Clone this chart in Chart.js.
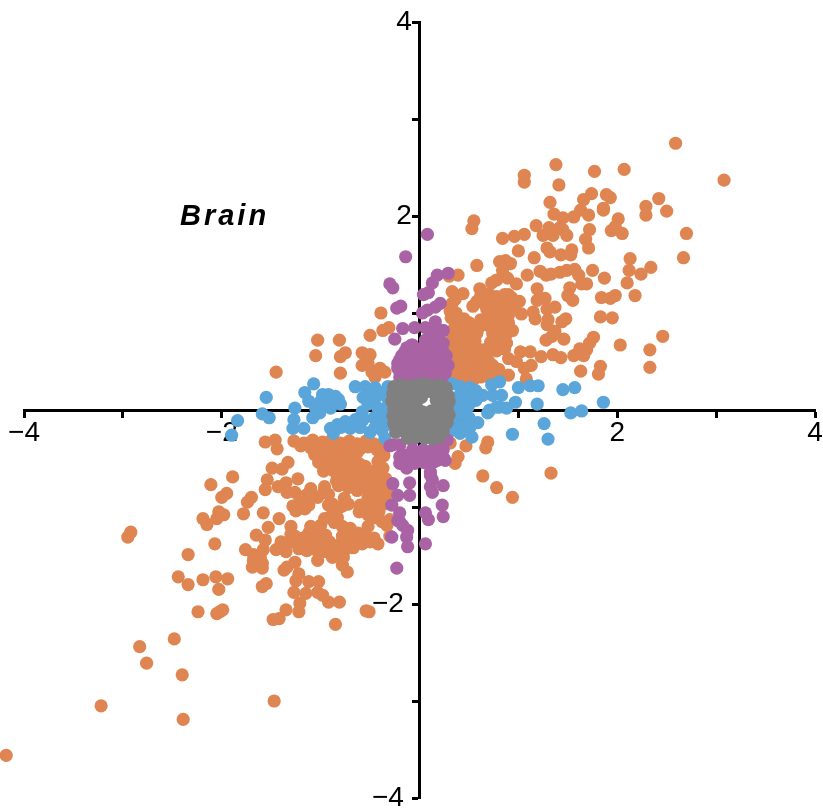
<!DOCTYPE html>
<html>
<head>
<meta charset="utf-8">
<title>Brain</title>
<script src="https://cdn.jsdelivr.net/npm/chart.js@4"></script>
<style>
  html, body { margin: 0; padding: 0; background: #fff; }
  #wrap { position: relative; width: 823px; height: 810px; overflow: hidden; }
  #chart { display: block; }
  #brain {
    position: absolute; left: 180px; top: 199px;
    font: italic bold 29px "Liberation Sans", Arial, sans-serif;
    letter-spacing: 3px; color: #000;
  }
</style>
</head>
<body>
<div id="wrap">
  <canvas id="chart" width="823" height="810"></canvas>
  <div id="brain">Brain</div>
</div>
<script>
// values: [x, y]
const greyPoints = [
  [-.26,.24],[-.19,.26],[-.11,.25],[-.03,.26],[.05,.27],[.13,.25],[.2,.26],[.27,.23],
  [-.27,.17],[-.18,.18],[-.1,.16],[-.02,.18],[.07,.19],[.15,.17],[.22,.16],[.29,.15],
  [-.28,.09],[-.2,.08],[-.12,.1],[-.03,.09],[.02,.13],[.17,.1],[.24,.08],[.3,.09],
  [-.26,.01],[-.17,.02],[-.09,.03],[-.02,.01],[.03,-.02],[.12,-.01],[.2,.01],[.28,.02],
  [-.27,-.06],[-.19,-.07],[-.1,-.08],[-.02,-.06],[.06,-.08],[.14,-.07],[.22,-.06],[.3,-.05],
  [-.26,-.14],[-.18,-.15],[-.09,-.14],[-.01,-.16],[.07,-.15],[.15,-.14],[.23,-.16],[.28,-.13],
  [-.24,-.23],[-.16,-.22],[-.08,-.24],[0,-.22],[.08,-.23],[.16,-.24],[.24,-.22],
  [-.12,-.29],[-.04,-.28],[.05,-.29],[.13,-.3],[.2,-.28]
];
const bluePoints = [
  [-1.9,-.26],[-1.84,-.11],[-1.59,-.04],[-1.52,-.08],[-1.55,.13],[-1.26,.02],[-1.27,-.1],[-1.28,-.19],
  [-1.17,-.19],[-1.16,.18],[-1.07,.27],[-1.12,.09],[-.98,.16],[-.85,.14],[-.8,.06],[-.9,.02],
  [-.98,.03],[-1.01,-.03],[-1.08,-.08],[-.9,-.19],[-.83,-.15],[-.75,-.12],[-.65,-.1],[-.87,-.24],
  [-.8,-.18],[-.7,-.19],[-.6,-.18],[-.5,-.23],[-.58,-.02],[-.57,-.1],[-.65,.24],[-.55,.24],
  [-.45,.23],[-.32,.24],[-.57,.13],[-.45,.12],[-.33,.13],[-.42,.02],[-.33,.03],[-.38,-.08],
  [-.33,-.15],[-.45,-.18],[-.38,-.21],[-.35,-.29],[-.9,.1],[-.92,.16],[-1.0,.09],[-.95,.08],
  [-.88,.08],[-.82,.11],[-1.05,.02],[-.5,.2],[-.4,.18],[-.52,.06],[-.46,-.08],
  [.33,.27],[.41,.24],[.51,.23],[.38,.13],[.48,.13],[.29,.13],[.38,.03],[.49,.03],
  [.44,-.07],[.54,-.13],[.59,-.13],[.34,-.13],[.41,-.18],[.51,-.18],[.33,-.21],[.41,-.24],
  [.53,-.28],[.71,0],[.69,-.03],[.81,.03],[.88,.02],[.97,.08],[1.0,.23],[1.12,.25],
  [1.2,.25],[.64,.15],[.74,.15],[.83,.15],[.81,.29],[.73,.26],[1.19,.06],[.94,-.25],
  [1.26,-.14],[1.3,-.3],[1.45,.21],[1.57,.23],[1.86,.08],[1.53,-.03],[1.64,-.01],[.78,.03],
  [.57,.1],[.57,.2],[.42,.08],[.5,.06],[.33,.04],[.34,-.05],[.42,-.03],[.5,-.08]
];
const orangePoints = [
  // lower left tail
  [-4.18,-3.56],[-3.22,-3.05],[-2.39,-3.19],[-1.47,-3],[-2.4,-2.73],[-2.76,-2.61],[-2.83,-2.44],[-2.48,-2.36],
  [-.85,-2.21],[-.54,-2.07],[-.51,-2.08],[-1.48,-2.16],[-1.42,-2.15],[-1.35,-2.06],[-1.22,-2.08],[-1.21,-1.99],
  [-.92,-1.98],[-.81,-1.98],[-.98,-1.91],[-1.03,-1.88],[-1.12,-1.77],[-1.02,-1.77],[-1.15,-1.89],[-1.27,-1.88],
  [-1.25,-1.76],[-1.22,-1.69],[-2.24,-2.08],[-2.05,-2.1],[-2.02,-2.08],[-1.99,-2.06],[-2.03,-1.85],[-2.19,-1.75],
  [-2.06,-1.72],[-1.94,-1.74],[-2.44,-1.72],[-2.34,-1.8],[-2.34,-1.49],[-2.07,-1.38],[-2.95,-1.31],[-2.92,-1.26],
  [-1.59,-1.82],[-1.55,-1.79],[-.73,-1.67],[-.78,-1.6],[-1.03,-1.55],[-.88,-1.52],[-.77,-1.52],[-1.37,-1.65],
  [-1.34,-1.62],[-1.26,-1.57],[-1.69,-1.62],[-1.59,-1.63],[-1.76,-1.44],[-1.68,-1.49],[-1.61,-1.52],[-1.59,-1.58],
  [-1.68,-1.55],[-1.58,-1.44],[-1.65,-1.29],[-1.56,-1.34],[-1.53,-1.21],[-1.58,-1.06],[-1.42,-1.12],[-1.78,-1.07],
  [-1.74,-.95],[-1.7,-.9],[-2.19,-1.12],[-2.15,-1.18],[-2.05,-1.12],[-2.03,-1.05],[-1.98,-1.08],[-2.11,-.77],
  [-2,-.9],[-1.95,-.86],[-1.89,-.69],[-1.54,-.72],[-1.56,-.82],[-1.49,-.6],[-1.39,-.61],[-1.33,-.54],
  [-1.56,-.33],[-1.46,-.31],[-1.44,-.4],[-1.43,-.79],[-1.35,-.75],[-1.34,-.85],[-1.26,-.85],[-1.23,-.71],
  // lower left cloud
  [-1.27,-.32],[-1.17,-.34],[-1.08,-.31],[-.98,-.33],[-.89,-.31],[-.8,-.34],[-.71,-.32],[-.63,-.35],[-.54,-.32],[-.46,-.35],
  [-1.2,-.37],[-1.1,-.39],[-1.02,-.37],[-.93,-.4],[-.85,-.38],[-.76,-.39],[-.68,-.37],[-.6,-.4],[-.52,-.38],[-.43,-.41],[-.35,-.37],
  [-1.06,-.46],[-.98,-.44],[-.89,-.47],[-.81,-.45],[-.72,-.47],[-.63,-.44],[-.36,-.47],
  [-1.02,-.54],[-.94,-.56],[-.85,-.53],[-.76,-.55],[-.69,-.53],[-.6,-.56],[-.42,-.53],
  [-.97,-.63],[-.88,-.62],[-.79,-.65],[-.7,-.63],[-.62,-.61],[-.53,-.64],[-.44,-.62],
  [-.84,-.73],[-.76,-.71],[-.67,-.74],[-.58,-.72],[-.5,-.7],[-.41,-.73],[-.34,-.71],
  [-1.1,-.81],[-.96,-.79],[-.72,-.8],[-.63,-.83],[-.55,-.79],[-.46,-.81],[-.38,-.78],
  [-1.15,-.88],[-1.03,-.9],[-.92,-.87],[-.76,-.91],[-.52,-.9],[-.43,-.88],[-.32,-.86],
  [-1.22,-.96],[-1.12,-.98],[-.88,-.97],[-.78,-.99],[-.55,-.97],[-.47,-.94],[-.36,-.97],
  [-1.25,-1.04],[-1.16,-1.02],[-.85,-1.06],[-.61,-1.05],[-.5,-1.03],[-.41,-1.05],
  [-.83,-1.11],[-.44,-1.11],[-.3,-1.13],
  [-1.3,-1.2],[-1,-1.19],[-.78,-1.2],[-.7,-1.22],[-.33,-1.19],
  [-1.26,-1.3],[-1.12,-1.27],[-.95,-1.29],[-.72,-1.3],[-.62,-1.27],[-.55,-1.29],[-.3,-1.3],
  [-1.3,-1.36],[-1.21,-1.38],[-1.1,-1.35],[-1,-1.37],[-.91,-1.36],[-.8,-1.38],[-.68,-1.35],[-.5,-1.36],[-.42,-1.38],
  [-1.45,-1.44],[-1.35,-1.46],[-1.22,-1.43],[-1.14,-1.45],[-1.05,-1.44],[-.95,-1.46],[-.85,-1.43],[-.76,-1.45],
  // lower left cloud, filling between the rows
  [-1.28,-.99],[-1.2,-.92],[-1.1,-.9],[-.97,-.85],[-.82,-.78],
  [-.68,-.72],[-.92,-.98],[-.82,-1.01],[-.72,-.97],[-.6,-.98],[-.52,-1.08],[-.9,-1.1],[-.96,-1.12],[-1.02,-1.25],[-1.1,-1.2],
  [-.86,-1.16],[-.52,-1.2],[-.38,-1.15],[-.4,-.92],[-.33,-.8],[-.45,-.68],[-.37,-.6],[-.55,-.58],[-.65,-.68],
  [-.75,-.6],[-.83,-.68],[-.92,-.5],[-.8,-.5],[-.66,-.5],[-.4,-.57],[-1.05,-1.32],[-.78,-1.3],[-.67,-1.42],
  [-.58,-1.38],[-.46,-1.32],[-1.18,-1.32],[-1.3,-1.28],[-1.4,-1.36],
  // below the axis, right side
  [.69,-.33],[.67,-.39],[.39,-.48],[.36,-.55],[.47,-.37],[.64,-.68],[.78,-.8],[.94,-.9],[1.33,-.65],[.31,-.34],
  // above the axis, left side
  [-1.03,.72],[-.81,.72],[-1.05,.56],[-.8,.55],[-.75,.59],[-.8,.38],[-.58,.59],[-.5,.57],[-.58,.46],[-.52,.48],
  [-.5,.77],[-.39,1],[-.37,.82],[-.31,.85],[-.48,.39],[-.4,.43],[-.35,.39],[-.45,.34],[-1.45,.39],
  // upper right tail
  [2.59,2.75],[3.08,2.37],[1.38,2.53],[1.06,2.42],[1.06,2.35],[1.41,2.32],[1.77,2.46],[2.07,2.48],
  [1.74,2.23],[1.66,2.17],[1.32,2.14],[1.89,2.22],[1.93,2.19],[2.42,2.18],[2.29,2.1],[2.29,2.01],
  [2.5,2.05],[1.86,2.06],[1.86,2.08],[1.63,2.06],[1.71,2.01],[1.36,2.02],[1.45,1.98],[1.56,1.99],
  [2.01,1.97],[1.94,1.85],[1.98,1.89],[2.05,1.82],[2.7,1.82],[2.67,1.57],[.55,1.95],[.53,1.87],
  [1.18,1.9],[1.31,1.88],[1.42,1.88],[1.25,1.8],[1.35,1.8],[1.49,1.8],[1.45,1.86],[1.72,1.86],
  [1.68,1.76],[1.71,1.67],[.84,1.77],[.96,1.79],[1.06,1.81],[1,1.64],[1.29,1.67],[1.32,1.63],
  [1.43,1.6],[1.54,1.65],[1.53,1.6],[1.16,1.57],[.58,1.49],[2.13,1.56],[2.12,1.44],[2.24,1.4],
  [2.34,1.47],[.81,1.53],[.87,1.54],[.92,1.51],[.84,1.44],[.3,1.38],[.39,1.39],[1.09,1.39],
  [1.22,1.43],[1.28,1.39],[1.33,1.4],[1.42,1.42],[1.49,1.44],[1.57,1.45],[1.61,1.39],[1.75,1.44],
  [1.87,1.36],[2.1,1.31],[2.18,1.18],[1.98,1.18],[1.93,1.15],[1.84,1.16],[1.83,.96],[1.95,.95],
  [1.64,1.3],[1.69,1.3],[1.52,1.26],[1.5,1.18],[1.55,1.13],[1.19,1.25],[1.19,1.13],[1.27,1.15],
  [1.29,1.04],[1.37,1.06],[1.15,1.01],[1.03,.99],[1.17,.94],[1.3,.93],[1.29,.88],[1.44,.91],
  [1.48,.94],[1.37,.81],[1.34,.76],[1.28,.72],[1.46,.73],[1.76,.75],[1.72,.69],[1.69,.62],
  [1.62,.63],[2.03,.67],[2.46,.76],[2.33,.62],[2.33,.44],[1.83,.45],[1.81,.37],[1.63,.4],
  [1.66,.56],[1.56,.56],[1.43,.54],[1.35,.57],[1.23,.55],[1.12,.6],[1.02,.6],[1.13,.46],
  [1.06,.43],[1.08,.32],[.98,1.3],[1.01,1.12],[.9,1.19],[.89,1.36],[.73,1.31],[.78,1.34],
  [.61,1.25],[.44,1.2],[.33,1.22],
  // upper right cloud
  [.62,1.18],[.7,1.2],[.78,1.17],[.86,1.19],[.93,1.16],
  [.33,1.1],[.58,1.12],[.66,1.09],[.74,1.11],[.82,1.08],[.9,1.1],
  [.31,1.02],[.68,1.04],[.8,1.01],[.88,1.03],
  [.32,.95],[.45,.94],[.62,.93],[.72,.96],[.78,.94],[.85,.95],
  [.38,.87],[.45,.86],[.52,.88],[.6,.85],[.7,.87],[.83,.86],
  [.33,.78],[.42,.8],[.5,.77],[.58,.79],[.74,.79],[.82,.77],
  [.33,.7],[.42,.71],[.48,.69],[.56,.71],[.72,.7],[.8,.72],[.88,.69],
  [.28,.62],[.38,.61],[.46,.63],[.54,.6],[.63,.62],[.7,.64],[.78,.61],[.86,.63],
  [.3,.54],[.38,.55],[.47,.53],[.55,.55],[.62,.52],[.9,.53],
  [.33,.46],[.42,.47],[.5,.45],[.58,.47],[.66,.44],[.74,.46],
  [.34,.38],[.42,.39],[.5,.37],[.6,.39],[.66,.36],[.75,.38],
  [.36,.33],[.55,.32],[.7,.34],[.8,.32],
  // upper right cloud, filling between the rows
  [.36,1.14],[.37,1],[.4,.92],[.35,.84],[.54,1.07],[.64,1.14],[.72,1.02],[.76,1.06],
  [.84,1.13],[.95,1.06],[.68,.9],[.76,.87],[.9,.9],[.94,.82],[.88,.78],[.78,.7],[.56,.8],
  [.46,.74],[.4,.66],[.5,.58],[.58,.54],[.68,.58],[.74,.62],[.98,.5],[.8,.42],
  [.7,.5],[.56,.42],[.46,.41],[.38,.5],[.9,.36],[.62,.34],[.46,.33],[.9,.98],[.5,.9]
];
const purplePoints = [
  [.08,1.81],[-.14,1.58],[-.3,1.3],[-.27,1.26],[.18,1.39],[.29,1.41],[.13,1.31],[.04,1.19],[.09,1.21],
  [.21,1.1],[.16,1.06],[.08,1.03],[.03,1],[.16,.91],[-.23,1.05],[-.19,1.07],[-.17,.84],[-.05,.85],[-.25,.73],
  [.06,.85],[.18,.82],[.24,.82],[.06,.72],[.18,.72],[.24,.69],[.19,.75],[.12,.78],[.13,.66],[.03,.64],
  [-.13,.64],[-.07,.67],[.1,.65],[.18,.63],[.24,.6],[-.08,.67],[-.15,.6],[-.03,.57],[-.2,.52],[.06,.59],[.23,.59],
  [-.18,.56],[-.1,.54],[-.03,.57],[.06,.55],[.13,.57],[.2,.54],[.27,.56],[-.07,.52],
  [-.22,.48],[-.14,.47],[-.06,.5],[.02,.48],[.1,.46],[.18,.49],[.26,.47],[.24,.48],[.29,.46],
  [-.2,.4],[-.12,.41],[-.04,.38],[.05,.41],[.12,.39],[.19,.41],[.26,.38],[-.22,.43],[0,.44],[.11,.43],
  [-.15,.33],[-.08,.32],[0,.34],[.07,.32],[.14,.33],[.22,.32],[-.2,.34],[.16,.36],[.24,.36],
  [-.3,-.37],[-.2,-.36],[-.07,-.31],[.19,-.36],[.28,-.31],[-.07,-.41],[.24,-.41],[-.27,-.36],[-.17,-.46],[.04,-.41],
  [-.2,-.55],[-.13,-.6],[-.05,-.55],[.06,-.54],[.18,-.52],[.26,-.52],[-.2,-.48],[-.1,-.48],[.08,-.44],[.14,-.41],
  [-.17,-.55],[-.07,-.54],[.04,-.54],[.14,-.54],[.24,-.49],[.11,-.64],[0,-.47],[.14,-.48],
  [.11,-.67],[.13,-.72],[-.1,-.75],[-.1,-.88],[.11,-.79],[.13,-.85],[.24,-.78],[-.27,-.76],[-.28,-.98],[-.22,-.88],
  [.23,-.98],[.06,-1.06],[.09,-1.13],[.24,-1.1],[-.2,-1.06],[-.2,-1.15],[-.12,-1.24],[-.28,-1.31],
  [-.13,-1.31],[-.12,-1.41],[-.23,-1.63],[-.17,-1.19],[-.22,-1.14],[.06,-1.38]
];
const tickValues = [-4, -3, -2, -1, 0, 1, 2, 3, 4];
const labelledTicks = [-4, -2, 2, 4];

function toXY(list) {
  return list.map(p => ({ x: p[0], y: p[1] }));
}
function series(list, color) {
  return {
    data: toXY(list),
    backgroundColor: color,
    borderWidth: 0,
    pointRadius: 6.6,
    pointHoverRadius: 6.6,
    clip: false
  };
}
function axis(pos, label) {
  return {
    type: 'linear',
    min: -4,
    max: 4,
    position: pos,
    border: { color: '#000', width: 3 },
    grid: { drawOnChartArea: false, drawTicks: true, tickColor: '#000', tickLength: 6, tickWidth: 3 },
    afterBuildTicks: s => { s.ticks = tickValues.map(v => ({ value: v })); },
    // the end labels must not push the plot area inwards
    afterFit: s => {
      s.paddingTop = 0; s.paddingBottom = 0;
      s.paddingLeft = 0; s.paddingRight = 0;
    },
    ticks: {
      autoSkip: false,
      maxRotation: 0,
      padding: 0,
      color: '#000',
      font: { family: '"Liberation Sans", Arial, sans-serif', size: 28 },
      callback: label
    }
  };
}
function tickText(v) {
  return v < 0 ? '\u2212' + (-v) : String(v);
}

// points left of the axis end are skipped by the library, draw them anyway
const outsidePoints = {
  id: 'outsidePoints',
  afterDatasetsDraw(chart) {
    const all = { left: -1e4, right: 1e4, top: -1e4, bottom: 1e4 };
    chart.getDatasetMeta(3).data.forEach(el => {
      if (el.x < chart.chartArea.left) el.draw(chart.ctx, all);
    });
  }
};

new Chart(document.getElementById('chart'), {
  type: 'scatter',
  data: {
    datasets: [
      series(greyPoints, '#808080'),
      series(purplePoints, '#a963a4'),
      series(bluePoints, '#5aa5d9'),
      series(orangePoints, '#de8551')
    ]
  },
  options: {
    responsive: false,
    animation: false,
    layout: { padding: { left: 24, right: 8, top: 22, bottom: 12 } },
    plugins: { legend: { display: false }, title: { display: false }, tooltip: { enabled: false } },
    scales: {
      x: axis({ y: 0 }, v => labelledTicks.includes(v) ? tickText(v) : ''),
      // trailing spaces hold the labels away from the vertical axis line
      y: axis({ x: 0 }, v => labelledTicks.includes(v) ? tickText(v) + (v < 0 ? '  ' : ' ') : '')
    }
  },
  plugins: [outsidePoints]
});
</script>
</body>
</html>
